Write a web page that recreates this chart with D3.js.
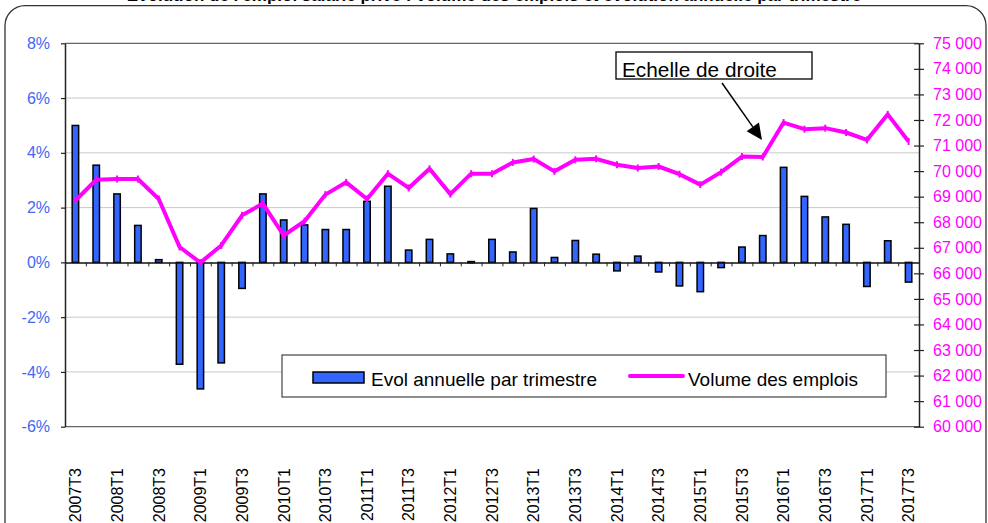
<!DOCTYPE html>
<html>
<head>
<meta charset="utf-8">
<script src="https://cdn.jsdelivr.net/npm/d3@7"></script>
<style>
  html, body { margin: 0; padding: 0; background: #fff; }
  svg { display: block; font-family: "Liberation Sans", Arial, sans-serif; }
</style>
</head>
<body>
<svg id="chart" width="988" height="523"></svg>
<script>
const titleText = "Evolution de l'emploi salarié privé : volume des emplois et évolution annuelle par trimestre";

const categories = [
  "2007T3","2007T4","2008T1","2008T2","2008T3","2008T4","2009T1","2009T2","2009T3","2009T4",
  "2010T1","2010T2","2010T3","2010T4","2011T1","2011T2","2011T3","2011T4","2012T1","2012T2",
  "2012T3","2012T4","2013T1","2013T2","2013T3","2013T4","2014T1","2014T2","2014T3","2014T4",
  "2015T1","2015T2","2015T3","2015T4","2016T1","2016T2","2016T3","2016T4","2017T1","2017T2",
  "2017T3"
];

// Evol annuelle par trimestre (%), left axis
const evolValues = [
  5.0, 3.55, 2.5, 1.35, 0.1, -3.72, -4.62, -3.67, -0.95, 2.5,
  1.55, 1.37, 1.2, 1.2, 2.23, 2.78, 0.45, 0.84, 0.31, 0.03,
  0.84, 0.38, 1.97, 0.18, 0.8, 0.3, -0.31, 0.23, -0.35, -0.86,
  -1.07, -0.19, 0.56, 0.98, 3.47, 2.41, 1.66, 1.39, -0.88, 0.79,
  -0.72
];

// Volume des emplois, right axis
const volumeValues = [
  68850, 69660, 69690, 69690, 68910, 67030, 66420, 67090, 68270, 68730,
  67480, 68040, 69080, 69560, 68910, 69900, 69340, 70090, 69100, 69900,
  69900, 70340, 70470, 69990, 70440, 70480, 70250, 70120, 70180, 69880,
  69470, 69960, 70570, 70550, 71900, 71640, 71680, 71510, 71220, 72220,
  71160
];

const leftTicks = [-6, -4, -2, 0, 2, 4, 6, 8];
const rightTicks = [60000,61000,62000,63000,64000,65000,66000,67000,68000,69000,70000,71000,72000,73000,74000,75000];
const shownLabelEvery = 2;

const seriesNames = ["Evol annuelle par trimestre", "Volume des emplois"];
const annotationText = "Echelle de droite";

// ---------- layout ----------
const W = 988, H = 523;
const plot = { left: 65, right: 919, top: 43.3, bottom: 426.7 };
const barColor = "#3366FF";
const lineColor = "#FF00FF";
const leftLabelColor = "#4169F5";

const svg = d3.select("#chart");

// outer rounded frame
svg.append("rect")
  .attr("x", 5).attr("y", 5.7)
  .attr("width", 981).attr("height", 560)
  .attr("rx", 20).attr("ry", 20)
  .attr("fill", "#fff")
  .attr("stroke", "#333").attr("stroke-width", 1.3);

// title (clipped at the top like the reference)
svg.append("text")
  .attr("x", 494).attr("y", 0.5)
  .attr("text-anchor", "middle")
  .attr("font-weight", "bold")
  .attr("font-size", 17)
  .attr("fill", "#000")
  .text(titleText);

// scales
const x = d3.scaleBand()
  .domain(categories)
  .range([plot.left, plot.right])
  .paddingInner(0.69)
  .paddingOuter(0.345);
const xc = c => x(c) + x.bandwidth() / 2;

const yL = d3.scaleLinear().domain([-6, 8]).range([plot.bottom, plot.top]);
const yR = d3.scaleLinear().domain([60000, 75000]).range([plot.bottom, plot.top]);

// gridlines
svg.append("g")
  .selectAll("line")
  .data(leftTicks.filter(t => t !== 8 && t !== -6 && t !== 0))
  .join("line")
  .attr("x1", plot.left).attr("x2", plot.right)
  .attr("y1", d => yL(d)).attr("y2", d => yL(d))
  .attr("stroke", "#c8c8c8").attr("stroke-width", 1);

// plot top/bottom border
svg.append("line")
  .attr("x1", plot.left).attr("x2", plot.right)
  .attr("y1", plot.top).attr("y2", plot.top)
  .attr("stroke", "#666").attr("stroke-width", 1.2);
svg.append("line")
  .attr("x1", plot.left).attr("x2", plot.right)
  .attr("y1", plot.bottom).attr("y2", plot.bottom)
  .attr("stroke", "#666").attr("stroke-width", 1.2);

// left axis
const fmtPct = d => d + "%";
const gL = svg.append("g")
  .attr("transform", `translate(${plot.left},0)`)
  .call(d3.axisLeft(yL).tickValues(leftTicks).tickFormat(fmtPct).tickSize(4).tickSizeOuter(0).tickPadding(11));
gL.select(".domain").attr("stroke", "#222").attr("stroke-width", 1.5);
gL.selectAll(".tick line").attr("stroke", "#222").attr("stroke-width", 1.2);
gL.selectAll(".tick text")
  .attr("fill", leftLabelColor)
  .attr("font-size", 16)
  .attr("font-family", "'Liberation Sans', Arial, sans-serif");

// right axis
const locale = d3.formatLocale({ decimal: ",", thousands: " ", grouping: [3], currency: ["", " €"] });
const fmtR = locale.format(",");
const gR = svg.append("g")
  .attr("transform", `translate(${plot.right},0)`)
  .call(d3.axisRight(yR).tickValues(rightTicks).tickFormat(fmtR).tickSize(5).tickSizeOuter(0).tickPadding(9));
gR.select(".domain").attr("stroke", "#222").attr("stroke-width", 1.5);
gR.selectAll(".tick line").attr("x1", -5).attr("stroke", "#222").attr("stroke-width", 1.2);
gR.selectAll(".tick text")
  .attr("fill", lineColor)
  .attr("font-size", 16)
  .attr("font-family", "'Liberation Sans', Arial, sans-serif");

// bars
svg.append("g")
  .selectAll("rect")
  .data(categories.map((c, i) => ({ c, v: evolValues[i] })))
  .join("rect")
  .attr("x", d => x(d.c))
  .attr("width", x.bandwidth())
  .attr("y", d => Math.min(yL(d.v), yL(0)))
  .attr("height", d => Math.max(Math.abs(yL(d.v) - yL(0)), 1.2))
  .attr("fill", barColor)
  .attr("stroke", "#000")
  .attr("stroke-width", 1.5);

// zero axis with category boundary ticks
const xIdx = d3.scaleLinear().domain([0, categories.length]).range([plot.left, plot.right]);
const gX = svg.append("g")
  .attr("transform", `translate(0,${yL(0)})`)
  .call(d3.axisBottom(xIdx).tickValues(d3.range(0, categories.length + 1)).tickFormat("").tickSize(4).tickSizeOuter(0));
gX.select(".domain").attr("stroke", "#111").attr("stroke-width", 1.5);
gX.selectAll(".tick line").attr("stroke", "#222").attr("stroke-width", 1);

// category labels (rotated)
svg.append("g")
  .selectAll("text")
  .data(categories.filter((c, i) => i % shownLabelEvery === 0))
  .join("text")
  .attr("transform", c => `translate(${xc(c) + 5.8},468) rotate(-90)`)
  .attr("text-anchor", "end")
  .attr("font-size", 16)
  .attr("fill", "#000")
  .text(c => c);

// line
const line = d3.line()
  .x((d, i) => xc(categories[i]))
  .y(d => yR(d));
svg.append("path")
  .datum(volumeValues)
  .attr("d", line)
  .attr("fill", "none")
  .attr("stroke", lineColor)
  .attr("stroke-width", 4)
  .attr("stroke-linejoin", "round");
svg.append("g")
  .selectAll("line")
  .data(volumeValues)
  .join("line")
  .attr("x1", (d, i) => xc(categories[i])).attr("x2", (d, i) => xc(categories[i]))
  .attr("y1", d => yR(d) - 3.5).attr("y2", d => yR(d) + 3.5)
  .attr("stroke", lineColor).attr("stroke-width", 2);

// legend
const lg = svg.append("g");
lg.append("rect")
  .attr("x", 282).attr("y", 355).attr("width", 604).attr("height", 42)
  .attr("fill", "#fff").attr("stroke", "#444").attr("stroke-width", 1.2);
lg.append("rect")
  .attr("x", 313).attr("y", 372).attr("width", 51).attr("height", 11)
  .attr("fill", barColor).attr("stroke", "#000").attr("stroke-width", 1.5);
lg.append("text")
  .attr("x", 371).attr("y", 385.5)
  .attr("font-size", 19).attr("fill", "#000")
  .text(seriesNames[0]);
lg.append("line")
  .attr("x1", 630).attr("x2", 683).attr("y1", 376).attr("y2", 376)
  .attr("stroke", lineColor).attr("stroke-width", 4).attr("stroke-linecap", "round");
lg.append("text")
  .attr("x", 688).attr("y", 385.5)
  .attr("font-size", 19).attr("fill", "#000")
  .text(seriesNames[1]);

// annotation
const an = svg.append("g");
an.append("rect")
  .attr("x", 616).attr("y", 52).attr("width", 196).attr("height", 27)
  .attr("fill", "#fff").attr("stroke", "#000").attr("stroke-width", 1.3);
an.append("text")
  .attr("x", 622).attr("y", 76.5)
  .attr("font-size", 20.8).attr("fill", "#000")
  .text(annotationText);
const ax1 = 722, ay1 = 83, ax2 = 762, ay2 = 140;
const ang = Math.atan2(ay2 - ay1, ax2 - ax1);
const hl = 16, hw = 7.5;
const bx = ax2 - hl * Math.cos(ang), by = ay2 - hl * Math.sin(ang);
an.append("line")
  .attr("x1", ax1).attr("y1", ay1).attr("x2", bx).attr("y2", by)
  .attr("stroke", "#000").attr("stroke-width", 1.5);
an.append("path")
  .attr("d", `M${ax2},${ay2} L${bx + hw * Math.sin(ang)},${by - hw * Math.cos(ang)} L${bx - hw * Math.sin(ang)},${by + hw * Math.cos(ang)} Z`)
  .attr("fill", "#000");
</script>
</body>
</html>
